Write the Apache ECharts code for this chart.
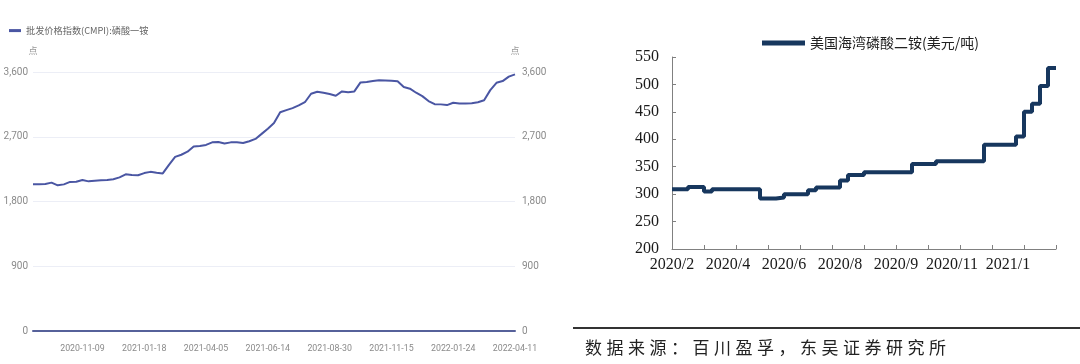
<!DOCTYPE html>
<html>
<head>
<meta charset="utf-8">
<script src="https://cdn.jsdelivr.net/npm/echarts@6/dist/echarts.min.js"></script>
<style>
html,body{margin:0;padding:0;background:#fff;}
#chart{width:1080px;height:364px;position:absolute;left:0;top:0;}
#src{position:absolute;left:585px;top:334px;font-family:"Noto Sans CJK SC";font-size:17px;letter-spacing:4.5px;color:#222;white-space:nowrap;}
</style>
</head>
<body>
<div id="chart"></div>
<div id="src">数据来源：百川盈孚，东吴证券研究所</div>
<script>
// ---- Left chart: 批发价格指数(CMPI):磷酸一铵 (weekly) ----
const cmpiName = '批发价格指数(CMPI):磷酸一铵';
const cmpiDates = [
 '2020-09-14','2020-09-21','2020-09-28','2020-10-05','2020-10-12','2020-10-19','2020-10-26','2020-11-02',
 '2020-11-09','2020-11-16','2020-11-23','2020-11-30','2020-12-07','2020-12-14','2020-12-21','2020-12-28',
 '2021-01-04','2021-01-11','2021-01-18','2021-01-25','2021-02-01','2021-02-08','2021-02-22','2021-03-01',
 '2021-03-08','2021-03-15','2021-03-22','2021-03-29','2021-04-05','2021-04-12','2021-04-19','2021-04-26',
 '2021-05-03','2021-05-10','2021-05-17','2021-05-24','2021-05-31','2021-06-07','2021-06-14','2021-06-21',
 '2021-06-28','2021-07-05','2021-07-12','2021-07-19','2021-07-26','2021-08-02','2021-08-09','2021-08-16',
 '2021-08-30','2021-09-06','2021-09-13','2021-09-20','2021-09-27','2021-10-11','2021-10-18','2021-10-25',
 '2021-11-01','2021-11-08','2021-11-15','2021-11-22','2021-11-29','2021-12-06','2021-12-13','2021-12-20',
 '2021-12-27','2022-01-03','2022-01-10','2022-01-17','2022-01-24','2022-02-07','2022-02-14','2022-02-21',
 '2022-02-28','2022-03-07','2022-03-14','2022-03-21','2022-03-28','2022-04-04','2022-04-11'
];
const cmpiValues = [
 2040,2040,2042,2062,2025,2038,2072,2075,
 2100,2080,2088,2094,2100,2110,2135,2178,
 2168,2165,2195,2212,2200,2190,2310,2420,
 2450,2492,2566,2572,2586,2622,2628,2605,
 2622,2622,2614,2638,2670,2740,2812,2890,
 3040,3070,3098,3135,3180,3298,3326,3312,
 3293,3270,3330,3320,3330,3455,3460,3474,
 3484,3482,3478,3470,3392,3368,3312,3265,
 3196,3152,3150,3140,3172,3163,3163,3166,
 3180,3208,3348,3450,3474,3535,3567
];
const cmpiTickLabels = ['2020-11-09','2021-01-18','2021-04-05','2021-06-14','2021-08-30','2021-11-15','2022-01-24','2022-04-11'];
const cmpiYTicks = [0, 900, 1800, 2700, 3600];

// ---- Right chart: 美国海湾磷酸二铵(美元/吨) ----
const dapName = '美国海湾磷酸二铵(美元/吨)';
const dapDates = [
 '2020/2/21','2020/2/29','2020/3/8','2020/3/16','2020/3/23','2020/3/31','2020/4/8','2020/4/16',
 '2020/4/24','2020/5/2','2020/5/10','2020/5/17','2020/5/25','2020/6/2','2020/6/10','2020/6/18',
 '2020/6/26','2020/7/4','2020/7/11','2020/7/19','2020/7/27','2020/8/4','2020/8/12','2020/8/20',
 '2020/8/28','2020/9/4','2020/9/12','2020/9/20','2020/9/28','2020/10/6','2020/10/14','2020/10/22',
 '2020/10/29','2020/11/6','2020/11/14','2020/11/22','2020/11/30','2020/12/8','2020/12/16','2020/12/23',
 '2020/12/31','2021/1/8','2021/1/16','2021/1/24','2021/2/1','2021/2/9','2021/2/16','2021/2/24','2021/3/4'
];
const dapValues = [
 309,309,313,313,305,309,309,309,
 309,309,309,292,292,294,300,300,
 300,307,312,312,312,325,335,335,
 340,340,340,340,340,340,355,355,
 355,360,360,360,360,360,360,390,
 390,390,390,405,450,465,497,530,530
];
const dapTickLabels = ['2020/2','2020/4','2020/6','2020/8','2020/9','2020/11','2021/1'];
const dapYTicks = [200, 250, 300, 350, 400, 450, 500, 550];

const chart = echarts.init(document.getElementById('chart'), null, {renderer: 'canvas'});
const grayFont = "Roboto,'Noto Sans',sans-serif";
const serifFont = "'Liberation Serif','DejaVu Serif',serif";
const thousands = v => String(v).replace(/\B(?=(\d{3})+(?!\d))/g, ',');

const option = {
  animation: false,
  backgroundColor: '#fff',
  legend: [
    {
      data: [cmpiName], left: 4, top: 21, icon: 'rect', itemWidth: 12, itemHeight: 3, itemGap: 4,
      textStyle: {color: '#666', fontSize: 9.2, fontFamily: "'Noto Sans CJK SC'"}
    },
    {
      data: [dapName], left: 757, top: 31, icon: 'rect', itemWidth: 43, itemHeight: 5,
      textStyle: {color: '#222', fontSize: 14, fontFamily: "'Noto Sans CJK SC'"}
    }
  ],
  grid: [
    {left: 33, right: 565, top: 72, bottom: 33},
    {left: 672, right: 24, top: 57, bottom: 115}
  ],
  xAxis: [
    {
      type: 'category', gridIndex: 0, data: cmpiDates, boundaryGap: false,
      axisLine: {lineStyle: {color: '#56619A', width: 2}},
      axisTick: {show: false},
      axisLabel: {
        interval: (i, v) => cmpiTickLabels.indexOf(v) >= 0,
        color: '#8a8a8a', fontSize: 8.8, fontFamily: grayFont, margin: 13
      },
      splitLine: {show: false}
    },
    {
      type: 'category', gridIndex: 1, data: dapDates, boundaryGap: false,
      axisLine: {lineStyle: {color: '#808080', width: 1}},
      axisTick: {show: true, inside: true, length: 4, interval: 3, lineStyle: {color: '#808080'}},
      axisLabel: {
        interval: 6,
        formatter: (v, i) => dapTickLabels[Math.round(i / 7)],
        color: '#1a1a1a', fontSize: 16, fontFamily: serifFont, margin: 8
      },
      splitLine: {show: false}
    }
  ],
  yAxis: [
    {
      type: 'value', gridIndex: 0, position: 'left', min: cmpiYTicks[0], max: cmpiYTicks[cmpiYTicks.length - 1], interval: 900,
      name: '点', nameGap: 17, nameTextStyle: {color: '#999', fontSize: 9, fontFamily: "'Noto Sans CJK SC'"},
      axisLine: {show: false}, axisTick: {show: false},
      axisLabel: {formatter: thousands, color: '#8a8a8a', fontSize: 10, fontFamily: grayFont, margin: 5},
      splitLine: {lineStyle: {color: '#ECEEF6', width: 1}}
    },
    {
      type: 'value', gridIndex: 0, position: 'right', min: cmpiYTicks[0], max: cmpiYTicks[cmpiYTicks.length - 1], interval: 900,
      name: '点', nameGap: 17, nameTextStyle: {color: '#999', fontSize: 9, fontFamily: "'Noto Sans CJK SC'"},
      axisLine: {show: false}, axisTick: {show: false},
      axisLabel: {formatter: thousands, color: '#8a8a8a', fontSize: 10, fontFamily: grayFont, margin: 7},
      splitLine: {show: false}
    },
    {
      type: 'value', gridIndex: 1, min: dapYTicks[0], max: dapYTicks[dapYTicks.length - 1], interval: 50,
      axisLine: {show: true, lineStyle: {color: '#808080', width: 1}},
      axisTick: {show: true, inside: true, length: 4, lineStyle: {color: '#808080'}},
      axisLabel: {color: '#1a1a1a', fontSize: 16, fontFamily: serifFont, margin: 13},
      splitLine: {show: false}
    }
  ],
  series: [
    {
      name: cmpiName, type: 'line', xAxisIndex: 0, yAxisIndex: 0, data: cmpiValues,
      showSymbol: false, symbol: 'none', color: '#4A56A3',
      lineStyle: {color: '#4A56A3', width: 2}
    },
    {
      name: dapName, type: 'line', xAxisIndex: 1, yAxisIndex: 2, data: dapValues, step: 'end',
      showSymbol: false, symbol: 'none', color: '#17375E',
      lineStyle: {color: '#17375E', width: 4}
    }
  ],
  graphic: [
    {type: 'line', shape: {x1: 573, y1: 328, x2: 1080, y2: 328}, style: {stroke: '#333', lineWidth: 2}}
  ]
};
chart.setOption(option);
</script>
</body>
</html>
